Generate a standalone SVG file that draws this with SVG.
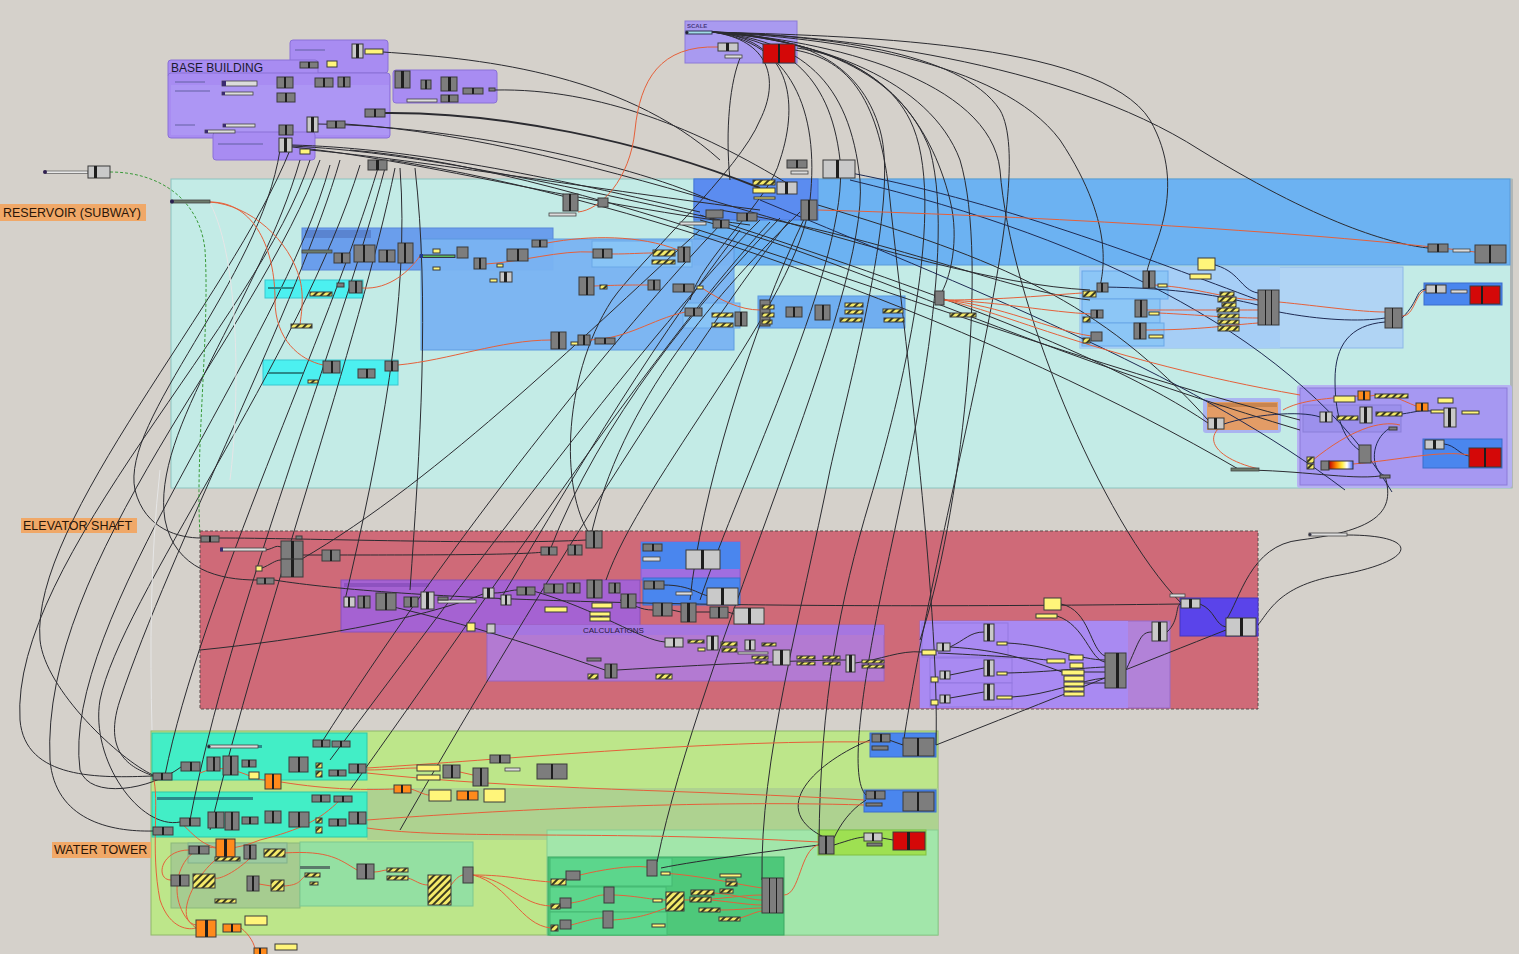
<svg xmlns="http://www.w3.org/2000/svg" width="1519" height="954" viewBox="0 0 1519 954">
<defs>
<pattern id="ht" width="5" height="5" patternUnits="userSpaceOnUse" patternTransform="rotate(45)"><rect width="5" height="5" fill="#f4ea6a"/><rect width="2" height="5" fill="#3a3a1e"/></pattern>
<linearGradient id="grad" x1="0" y1="0" x2="1" y2="0"><stop offset="0" stop-color="#c00000"/><stop offset="0.3" stop-color="#ff8800"/><stop offset="0.55" stop-color="#ffee44"/><stop offset="0.75" stop-color="#ffffff"/><stop offset="1" stop-color="#4466ff"/></linearGradient>
<style>
.g{fill:#7d7d7d;stroke:#3b3b3b;stroke-width:1}
.l{fill:#c9c9c9;stroke:#3b3b3b;stroke-width:1}
.k{fill:#1e1e1e}
.y{fill:#fff57a;stroke:#3b3b3b;stroke-width:1}
.h{fill:url(#ht);stroke:#3b3b3b;stroke-width:1}
.r{fill:#d40808;stroke:#3b3b3b;stroke-width:1}
.o{fill:#ff8a1c;stroke:#3b3b3b;stroke-width:1}
.s{fill:#dcdcdc;stroke:#444;stroke-width:0.8}
.sd{fill:#6b7b6b;stroke:#444;stroke-width:0.8}
.hd{fill:#5a5a9a;opacity:0.45}
.w{fill:none;stroke:#2b2b30;stroke-width:1}
.wn{fill:none;stroke:#1f2a52;stroke-width:1}
.wo{fill:none;stroke:#e5603a;stroke-width:1}
.wt{fill:none;stroke:#2b2b30;stroke-width:2}
.lbl{font-family:"Liberation Sans",Arial,sans-serif;font-size:12.5px;fill:#2a1608}
.pb{fill:#a88cf2;stroke:#8a70d6;stroke-width:1}
.pbi{fill:#ad96f4}
</style>
</defs>
<rect x="0" y="0" width="1519" height="954" fill="#d5d1cb"/>

<!-- group backgrounds -->
<g id="regions">
<!-- reservoir -->
<rect x="171" y="179" width="1341" height="309" fill="#c3ebe6" stroke="#8cc4c0"/>
<rect x="1510" y="179" width="3" height="309" fill="#b0b6b6"/>
<rect x="694" y="179" width="816" height="86" fill="#6cb2f2" stroke="#5a9ad8"/>
<rect x="694" y="179" width="124" height="41" fill="#5b8cf0" stroke="#4a78d8"/>
<rect x="302" y="228" width="251" height="42" fill="#6a9eec" stroke="#5a88d8"/>
<rect x="305" y="230" width="66" height="8" fill="#5a84d0"/>
<rect x="421" y="239" width="313" height="111" fill="#7ab4f3" stroke="#5a98e0" opacity="0.95"/>
<rect x="592" y="241" width="100" height="26" fill="#88c4f6" stroke="#6aa8e8"/>
<rect x="683" y="303" width="57" height="25" fill="#88c4f6" stroke="#6aa8e8"/>
<rect x="758" y="296" width="147" height="32" fill="#70aef0" stroke="#5a98e0"/>
<rect x="265" y="280" width="98" height="18" fill="#4cf0f0" stroke="#38c8d0"/>
<rect x="263" y="360" width="135" height="25" fill="#4cf0f0" stroke="#38c8d0"/>
<rect x="1080" y="267" width="323" height="81" fill="#b0d4f4" stroke="#8eb8e8"/>
<rect x="1080" y="267" width="200" height="81" fill="#a6cef6"/>
<rect x="1082" y="271" width="86" height="28" fill="#8cc6f6" stroke="#6aa8e8"/>
<rect x="1082" y="299" width="78" height="24" fill="#8cc6f6" stroke="#6aa8e8"/>
<rect x="1082" y="323" width="82" height="23" fill="#8cc6f6" stroke="#6aa8e8"/>
<rect x="1424" y="283" width="78" height="22" fill="#4a86ee" stroke="#3a6ccc"/>
<rect x="1203" y="398" width="78" height="35" rx="3" fill="#aab4f0"/>
<rect x="1207" y="402" width="71" height="28" fill="#e39c66"/>
<rect x="1208" y="403" width="69" height="4" fill="#c8844e"/>
<rect x="1297" y="385" width="215" height="103" rx="3" fill="#b6b2f2"/>
<rect x="1300" y="388" width="207" height="97" fill="#a698f2" stroke="#8c7ad8"/>
<rect x="1303" y="405" width="98" height="27" fill="#9c90ec" stroke="#8a7ed8"/>
<rect x="1423" y="439" width="79" height="29" fill="#4a86ee" stroke="#3a6ccc"/>
<!-- elevator -->
<rect x="200" y="531" width="1058" height="178" fill="#cf6a78" stroke="#5a4a4a" stroke-dasharray="3,2"/>
<rect x="341" y="580" width="299" height="52" fill="#a562d2" stroke="#8a50b8"/>
<rect x="344" y="583" width="85" height="4" fill="#8e52c0"/>
<rect x="487" y="625" width="397" height="56" fill="#b37ad2" stroke="#9a62c0"/>
<rect x="487" y="625" width="397" height="10" fill="#a676e0"/>
<rect x="641" y="542" width="99" height="38" fill="#a06ee0" stroke="#8a5ad0"/>
<rect x="641" y="542" width="99" height="27" fill="#4a86ee"/>
<rect x="643" y="578" width="97" height="27" fill="#4a86ee" stroke="#3a6ccc"/>
<rect x="920" y="621" width="250" height="87" fill="#b282d8" stroke="#9a6ac6"/>
<rect x="920" y="621" width="208" height="87" fill="#a98af2"/>
<rect x="922" y="623" width="86" height="34" fill="#a98af2" stroke="#9478e0"/>
<rect x="930" y="658" width="82" height="25" fill="#a98af2" stroke="#9478e0"/>
<rect x="930" y="683" width="82" height="24" fill="#a98af2" stroke="#9478e0"/>
<rect x="1180" y="598" width="78" height="38" fill="#5a44ea" stroke="#4434c0"/>
<!-- water tower -->
<rect x="151" y="731" width="787" height="204" fill="#bde68a" stroke="#90b86a"/>
<rect x="367" y="788" width="571" height="52" fill="#aed290"/>
<rect x="152" y="733" width="215" height="47" fill="#42eec6" stroke="#2ec8a8"/>
<rect x="152" y="792" width="215" height="45" fill="#42eec6" stroke="#2ec8a8"/>
<rect x="210" y="745" width="52" height="3" fill="#2a8a8a"/>
<rect x="157" y="797" width="96" height="3" fill="#2a8a8a"/>
<rect x="171" y="843" width="129" height="65" fill="#a6cc90" stroke="#8cb87a"/>
<rect x="188" y="843" width="99" height="20" fill="#9ccaa0" stroke="#80b08a"/>
<rect x="300" y="842" width="173" height="64" fill="#94e0a2" stroke="#7cc890"/>
<rect x="300" y="866" width="30" height="3" fill="#5a7a6a"/>
<rect x="547" y="830" width="391" height="105" fill="#a2e6aa" stroke="#88cc90"/>
<rect x="548" y="857" width="236" height="78" fill="#4ec87a" stroke="#3aa862"/>
<rect x="550" y="858" width="122" height="28" fill="#5cd68c" stroke="#44b872"/>
<rect x="550" y="887" width="116" height="25" fill="#5cd68c" stroke="#44b872"/>
<rect x="550" y="912" width="117" height="23" fill="#5cd68c" stroke="#44b872"/>
<rect x="818" y="830" width="108" height="25" fill="#9ee052" stroke="#80c040"/>
<rect x="870" y="733" width="66" height="24" fill="#4a86ee" stroke="#3a6ccc"/>
<rect x="864" y="790" width="72" height="22" fill="#4a86ee" stroke="#3a6ccc"/>
<!-- base building -->
<rect x="290" y="40" width="98" height="33" rx="3" class="pb"/>
<rect x="168" y="60" width="150" height="18" rx="3" class="pb"/>
<rect x="168" y="73" width="222" height="65" rx="3" class="pb"/>
<rect x="171" y="85" width="218" height="50" class="pbi"/>
<rect x="213" y="132" width="102" height="28" rx="3" class="pb"/>
<rect x="393" y="70" width="104" height="33" rx="3" class="pb"/>
<rect x="295" y="49" width="30" height="2" class="hd"/>
<rect x="175" y="81" width="30" height="2" class="hd"/>
<rect x="175" y="90" width="35" height="2" class="hd"/>
<rect x="175" y="124" width="20" height="2" class="hd"/>
<rect x="218" y="143" width="45" height="2" class="hd"/>
<!-- scale -->
<rect x="685" y="21" width="112" height="42" fill="#a99af0" stroke="#8c7ad8"/>
</g>

<!-- labels -->
<g id="labels">
<text x="171" y="72" class="lbl" style="font-size:12px;fill:#1a1a2e">BASE BUILDING</text>
<text x="687" y="28" style="font-family:'Liberation Sans',Arial,sans-serif;font-size:6px;fill:#4a3a80;font-weight:bold">SCALE</text>
<rect x="0" y="204" width="146" height="17" fill="#f0a868"/>
<text x="3" y="217" class="lbl">RESERVOIR (SUBWAY)</text>
<rect x="21" y="518" width="116" height="15" fill="#f0a868"/>
<text x="23" y="530" class="lbl">ELEVATOR SHAFT</text>
<rect x="52" y="842" width="99" height="16" fill="#f0a868"/>
<text x="54" y="854" class="lbl">WATER TOWER</text>
<text x="583" y="633" style="font-family:'Liberation Sans',Arial,sans-serif;font-size:8px;fill:#2a1a40">CALCULATIONS</text>
</g>

<!-- connectors -->
<g id="connectors">
<path class="w" d="M712,32 C800,36 860,60 880,130 C900,200 850,380 830,470 C800,620 760,760 762,880"/>
<path class="w" d="M712,32 C810,38 900,70 930,150 C960,260 900,500 880,600 C860,700 850,780 866,795"/>
<path class="w" d="M712,32 C820,40 930,80 960,160 C990,260 960,520 920,640"/>
<path class="w" d="M712,32 C830,40 990,80 1000,170 C1010,300 1100,520 1181,603"/>
<path class="w" d="M712,32 C780,40 830,70 840,160 C850,260 740,480 700,600"/>
<path class="w" d="M712,32 C790,42 820,110 810,200 C800,300 640,480 606,580"/>
<path class="w" d="M712,32 C800,40 850,80 860,180 C870,300 700,650 657,862"/>
<path class="w" d="M712,32 C800,40 880,60 910,120 C950,200 900,400 870,500 C840,600 820,700 819,845"/>
<path class="w" d="M712,32 C830,35 1060,60 1200,150 C1330,230 1400,245 1428,248"/>
<path class="w" d="M712,32 C830,38 1000,60 1060,140 C1120,230 1100,280 1100,288"/>
<path class="w" d="M712,32 C820,36 960,50 1000,110 C1040,180 940,500 903,745"/>
<path class="w" d="M795,50 C850,60 880,100 890,200 C900,300 940,600 936,745"/>
<path class="w" d="M797,48 C880,60 930,120 950,200 C960,240 950,280 940,295"/>
<path class="w" d="M712,32 C790,38 800,100 780,160 C770,200 700,260 690,300"/>
<path class="w" d="M712,32 C770,40 780,80 760,120 C740,170 640,260 612,300 C560,380 560,500 594,540"/>
<path class="w" d="M741,56 C730,80 725,130 730,180"/>
<path class="w" d="M712,32 C840,36 1100,40 1150,120 C1190,190 1150,250 1147,272"/>
<path class="wt" d="M385,113 C500,112 640,140 760,188"/>
<path class="w" d="M318,124 C450,126 620,160 710,200"/>
<path class="w" d="M495,90 C600,88 700,130 790,185"/>
<path class="w" d="M383,52 C470,58 620,70 720,160"/>
<path class="w" d="M292,145 C400,148 520,170 700,212"/>
<path class="w" d="M292,146 C410,152 540,180 720,220"/>
<path class="w" d="M292,147 C420,160 560,200 750,225"/>
<path class="w" d="M310,150 C420,160 600,190 760,210"/>
<path class="w" d="M345,124 C600,140 900,280 1090,290"/>
<path class="w" d="M350,150 C600,170 950,330 1300,420"/>
<path class="w" d="M390,160 C650,200 1000,330 1240,470"/>
<path class="w" d="M280,150 C260,280 120,420 135,490 C145,530 180,538 201,538"/>
<path class="w" d="M300,160 C260,300 150,430 165,520 C175,570 220,580 257,580"/>
<path class="w" d="M310,160 C260,320 10,560 20,720 C25,780 100,778 153,776"/>
<path class="w" d="M320,160 C260,330 40,560 50,760 C55,820 110,832 153,831"/>
<path class="w" d="M330,165 C280,350 60,620 80,770 C90,800 150,790 181,767"/>
<path class="w" d="M378,168 C330,330 200,600 165,775"/>
<path class="w" d="M385,168 C340,340 230,610 190,820"/>
<path class="w" d="M395,168 C360,340 260,620 210,830"/>
<path class="w" d="M340,160 C300,300 170,550 120,700 C100,760 140,770 153,776"/>
<path class="w" d="M400,168 C410,300 380,450 345,600"/>
<path class="w" d="M415,168 C430,300 420,450 410,590"/>
<path class="w" d="M360,165 C300,360 120,600 100,700 C90,760 140,830 180,822"/>
<path class="w" d="M290,150 C230,300 30,520 40,640 C45,690 120,760 153,775"/>
<path class="w" d="M760,220 C650,330 480,560 330,760"/>
<path class="w" d="M770,222 C660,340 500,580 350,790"/>
<path class="w" d="M720,225 C620,330 450,540 320,745"/>
<path class="w" d="M780,218 C700,300 600,420 550,550"/>
<path class="w" d="M700,230 C600,320 440,480 300,560"/>
<path class="w" d="M740,230 C640,360 560,500 500,600"/>
<path class="w" d="M806,215 C750,330 700,500 690,600"/>
<path class="w" d="M800,212 C720,290 620,400 590,540"/>
<path class="w" d="M790,220 C700,330 520,620 400,830"/>
<path class="w" d="M720,210 C900,240 1000,290 1090,300"/>
<path class="w" d="M700,220 C850,260 1000,340 1300,430"/>
<path class="wn" d="M760,200 C1000,300 1200,380 1345,490"/>
<path class="wn" d="M850,180 C1100,240 1300,340 1392,492"/>
<path class="w" d="M818,205 C1000,260 1100,300 1208,420"/>
<path class="w" d="M700,215 C900,280 1100,350 1208,423"/>
<path class="wn" d="M835,170 C1000,200 1150,260 1258,300"/>
<path class="wn" d="M1102,287 C1180,288 1220,296 1258,305"/>
<path class="wn" d="M1279,312 C1320,320 1360,322 1385,318"/>
<path class="wn" d="M1402,318 C1420,300 1415,290 1426,289"/>
<path class="wn" d="M1211,264 C1240,270 1240,290 1258,293"/>
<path class="wn" d="M1385,322 C1350,325 1335,345 1335,380 C1335,420 1345,440 1359,450"/>
<path class="w" d="M1385,476 C1395,510 1380,530 1300,540 C1250,545 1240,600 1226,620"/>
<path class="w" d="M1347,535 C1420,535 1420,560 1340,575 C1280,585 1270,610 1258,625"/>
<path class="w" d="M1240,470 C1300,470 1350,480 1380,476"/>
<path class="wn" d="M1224,424 C1250,415 1300,410 1320,417"/>
<path class="wn" d="M1390,428 C1370,440 1370,470 1385,476"/>
<path class="wn" d="M1444,444 C1455,445 1460,455 1469,456"/>
<path class="wn" d="M1402,414 C1415,412 1420,410 1431,411"/>
<path class="w" d="M1126,670 C1140,640 1140,632 1152,632"/>
<path class="w" d="M1167,632 C1180,620 1175,604 1181,604"/>
<path class="w" d="M1200,604 C1215,610 1215,625 1226,627"/>
<path class="w" d="M936,745 C1050,700 1150,660 1226,630"/>
<path class="w" d="M219,538 C300,538 500,545 586,540"/>
<path class="w" d="M266,550 C275,548 275,545 281,547"/>
<path class="w" d="M262,568 C270,565 275,560 281,560"/>
<path class="w" d="M303,555 L322,555"/>
<path class="w" d="M340,555 C420,555 520,555 544,552"/>
<path class="w" d="M274,580 C400,600 700,610 1181,604"/>
<path class="w" d="M494,593 C505,593 510,590 517,590"/>
<path class="w" d="M664,585 C690,585 700,595 709,596"/>
<path class="w" d="M620,600 C635,605 640,610 653,610"/>
<path class="w" d="M672,610 L681,612"/>
<path class="w" d="M696,612 L710,612"/>
<path class="w" d="M728,612 L734,614"/>
<path class="w" d="M617,670 C700,665 800,660 846,660"/>
<path class="w" d="M855,663 C880,660 900,650 922,652"/>
<path class="w" d="M950,647 C965,640 970,632 984,632"/>
<path class="w" d="M950,675 L984,668"/>
<path class="w" d="M950,698 L984,692"/>
<path class="w" d="M1007,643 C1050,645 1080,660 1105,660"/>
<path class="w" d="M1007,673 C1050,672 1080,668 1105,667"/>
<path class="w" d="M1012,697 C1050,695 1080,680 1105,678"/>
<path class="w" d="M1061,604 C1090,610 1090,650 1105,656"/>
<path class="w" d="M1057,616 C1085,625 1090,660 1105,662"/>
<path class="w" d="M1084,672 L1105,672"/>
<path class="w" d="M1084,683 L1105,683"/>
<path class="w" d="M938,653 C980,655 1030,658 1047,660"/>
<path class="w" d="M950,647 C1000,650 1030,660 1062,672"/>
<path class="w" d="M200,650 C300,640 420,620 483,594"/>
<path class="w" d="M385,605 C450,620 520,640 605,670"/>
<path class="w" d="M530,590 C600,610 640,640 665,642"/>
<path class="w" d="M889,740 L903,745"/>
<path class="w" d="M819,845 C780,850 700,860 661,868"/>
<path class="w" d="M834,845 C850,840 855,838 864,837"/>
<path class="w" d="M882,838 L893,840"/>
<path class="w" d="M866,800 C850,810 840,825 834,838"/>
<path class="w" d="M870,740 C820,760 760,810 830,840"/>
<path class="wo" d="M367,768 C500,760 700,740 870,742"/>
<path class="wo" d="M367,773 C520,790 700,790 864,800"/>
<path class="wo" d="M367,820 C500,810 700,800 864,805"/>
<path class="wo" d="M367,828 C450,840 600,830 819,842"/>
<path class="wo" d="M473,875 C510,875 520,880 551,882"/>
<path class="wo" d="M473,875 C510,880 520,905 551,906"/>
<path class="wo" d="M473,875 C510,885 520,925 551,928"/>
<path class="wo" d="M580,875 C600,870 630,865 647,867"/>
<path class="wo" d="M571,903 C590,900 595,895 604,895"/>
<path class="wo" d="M571,925 C590,920 595,918 603,918"/>
<path class="wo" d="M661,873 C700,875 740,885 762,888"/>
<path class="wo" d="M614,895 C640,896 650,900 666,900"/>
<path class="wo" d="M613,920 C640,918 650,914 666,908"/>
<path class="wo" d="M684,900 C720,900 740,895 762,895"/>
<path class="wo" d="M714,893 C740,895 750,900 762,900"/>
<path class="wo" d="M711,900 C740,903 750,905 762,905"/>
<path class="wo" d="M720,910 C740,910 750,908 762,908"/>
<path class="wo" d="M740,918 C750,915 755,912 762,911"/>
<path class="wo" d="M784,895 C800,895 800,850 818,845"/>
<path class="wo" d="M189,850 C160,850 155,880 171,880"/>
<path class="wo" d="M216,848 C180,840 160,900 196,928"/>
<path class="wo" d="M235,848 C200,860 170,920 196,925"/>
<path class="wo" d="M256,852 C240,870 220,880 215,878"/>
<path class="wo" d="M284,853 C330,850 340,860 357,870"/>
<path class="wo" d="M259,884 L271,886"/>
<path class="wo" d="M284,886 C300,885 300,880 305,876"/>
<path class="wo" d="M241,928 C250,935 255,945 255,950"/>
<path class="wo" d="M200,773 C230,760 250,780 265,780"/>
<path class="wo" d="M281,782 C330,790 370,790 394,789"/>
<path class="wo" d="M411,789 C420,792 425,795 429,795"/>
<path class="wo" d="M366,770 C390,770 400,768 417,768"/>
<path class="wo" d="M460,772 L473,775"/>
<path class="wo" d="M153,776 C160,800 150,850 160,900 C170,930 190,930 196,928"/>
<path class="wo" d="M180,822 C200,840 210,860 260,840 C300,830 320,820 340,800"/>
<path class="wo" d="M374,872 C380,872 383,870 387,870"/>
<path class="wo" d="M408,878 C415,880 420,885 428,885"/>
<path class="wo" d="M451,885 C455,880 458,876 463,875"/>
<path class="wo" d="M210,202 C255,202 275,250 275,300 C275,340 300,360 323,365"/>
<path class="wo" d="M210,202 C250,205 290,240 300,280 C305,300 300,320 300,326"/>
<path class="wo" d="M362,288 C390,290 410,270 420,256"/>
<path class="wo" d="M398,365 C450,360 500,340 551,340"/>
<path class="wo" d="M590,340 C630,338 650,320 685,312"/>
<path class="wo" d="M818,210 C1000,215 1300,230 1475,252"/>
<path class="wo" d="M944,300 C1000,300 1050,295 1082,293"/>
<path class="wo" d="M944,300 C1000,302 1050,312 1091,314"/>
<path class="wo" d="M944,300 C1000,305 1050,330 1091,336"/>
<path class="wo" d="M944,300 C1000,310 1100,360 1300,395"/>
<path class="wo" d="M1155,285 C1200,288 1230,300 1258,300"/>
<path class="wo" d="M1147,310 C1200,310 1230,310 1258,310"/>
<path class="wo" d="M1159,313 C1200,315 1230,318 1258,318"/>
<path class="wo" d="M1146,330 C1200,330 1230,325 1258,323"/>
<path class="wo" d="M1279,302 C1320,306 1360,312 1385,312"/>
<path class="wo" d="M1402,316 C1415,316 1415,292 1426,290"/>
<path class="wo" d="M718,47 C660,45 640,80 635,130 C630,180 600,210 578,212"/>
<path class="wo" d="M486,264 C520,262 560,250 593,252"/>
<path class="wo" d="M612,254 C630,254 640,253 653,253"/>
<path class="wo" d="M594,286 C620,285 630,285 648,285"/>
<path class="wo" d="M547,243 C590,235 640,235 678,250"/>
<path class="wo" d="M702,288 C720,300 740,310 760,310"/>
<path class="wo" d="M1283,410 C1300,400 1330,398 1358,396"/>
<path class="wo" d="M1370,396 C1390,392 1400,400 1416,406"/>
<path class="wo" d="M1313,460 C1350,430 1380,420 1400,425"/>
<path class="wo" d="M1353,464 C1400,460 1440,450 1469,455"/>
<path class="wo" d="M1224,424 C1200,440 1220,460 1259,469"/>
<path fill="none" stroke="#3a9a3a" stroke-width="1" stroke-dasharray="3,2" d="M110,172 C160,172 200,200 205,250 C210,330 195,450 200,535"/>
<path fill="none" stroke="#e6e6e6" stroke-width="1" d="M210,203 C240,260 240,400 230,480"/>
<path fill="none" stroke="#e6e6e6" stroke-width="1" d="M160,470 C150,560 150,650 152,730"/>
</g>

<!-- nodes -->
<g id="node-base-building">
<rect class="g" x="277" y="77" width="16" height="11"/><rect class="k" x="284" y="77" width="2" height="11"/>
<rect class="g" x="315" y="78" width="18" height="9"/><rect class="k" x="323" y="78" width="2" height="9"/>
<rect class="g" x="338" y="77" width="12" height="10"/><rect class="k" x="343" y="77" width="2" height="10"/>
<rect class="g" x="277" y="93" width="18" height="9"/><rect class="k" x="285" y="93" width="2" height="9"/>
<rect class="l" x="307" y="117" width="11" height="15"/><rect class="k" x="311" y="117" width="3" height="15"/>
<rect class="g" x="327" y="121" width="18" height="7"/><rect class="k" x="335" y="121" width="2" height="7"/>
<rect class="g" x="365" y="109" width="20" height="8"/><rect class="k" x="374" y="109" width="2" height="8"/>
<rect class="g" x="279" y="125" width="14" height="10"/><rect class="k" x="285" y="125" width="2" height="10"/>
<rect class="l" x="279" y="138" width="13" height="14"/><rect class="k" x="284" y="138" width="3" height="14"/>
<rect class="y" x="300" y="149" width="10" height="5"/>
<rect class="g" x="300" y="62" width="18" height="6"/><rect class="k" x="308" y="62" width="2" height="6"/>
<rect class="y" x="327" y="61" width="10" height="6"/>
<rect class="l" x="352" y="44" width="11" height="14"/><rect class="k" x="356" y="44" width="3" height="14"/>
<rect class="y" x="365" y="49" width="18" height="5"/>
<rect class="s" x="222" y="81" width="35" height="5"/><rect x="222" y="81" width="4" height="5" fill="#3a2a70"/>
<rect class="s" x="222" y="92" width="31" height="3"/><rect x="222" y="92" width="3" height="3" fill="#3a2a70"/>
<rect class="s" x="223" y="124" width="32" height="3"/><rect x="223" y="124" width="3" height="3" fill="#3a2a70"/>
<rect class="s" x="205" y="130" width="30" height="3"/><rect x="205" y="130" width="3" height="3" fill="#3a2a70"/>
<rect class="g" x="395" y="71" width="15" height="17"/><rect class="k" x="401" y="71" width="3" height="17"/>
<rect class="g" x="421" y="80" width="10" height="9"/><rect class="k" x="425" y="80" width="2" height="9"/>
<rect class="g" x="441" y="77" width="16" height="14"/><rect class="k" x="448" y="77" width="3" height="14"/>
<rect class="g" x="441" y="95" width="17" height="7"/><rect class="k" x="448" y="95" width="2" height="7"/>
<rect class="g" x="463" y="88" width="20" height="6"/><rect class="k" x="472" y="88" width="2" height="6"/>
<rect class="g" x="489" y="88" width="6" height="3"/>
<rect class="s" x="407" y="99" width="30" height="3"/>
<rect class="g" x="368" y="160" width="19" height="10"/><rect class="k" x="376" y="160" width="3" height="10"/>
</g>

<g id="node-scale">
<rect x="686" y="31" width="26" height="3" fill="#a0dce6" stroke="#335"/><circle cx="687" cy="32.5" r="1.5" fill="#223"/>
<rect class="l" x="718" y="43" width="20" height="8"/><rect class="k" x="726" y="43" width="3" height="8"/>
<rect class="s" x="725" y="55" width="17" height="3" fill="#b8a8d8"/>
<rect class="r" x="763" y="44" width="32" height="19"/><rect class="k" x="778" y="44" width="2" height="19"/>
</g>

<g id="node-reservoir">
<rect x="45" y="171" width="43" height="2.5" fill="#e8e8e8" stroke="#444" stroke-width="0.6"/><circle cx="45" cy="172" r="2" fill="#302050"/>
<rect class="l" x="88" y="166" width="22" height="12"/><rect class="k" x="94" y="166" width="3" height="12"/>
<rect class="sd" x="171" y="200" width="39" height="3"/><circle cx="172" cy="201.5" r="2" fill="#2a2050"/>
<rect class="g" x="563" y="194" width="15" height="17"/><rect class="k" x="569" y="194" width="2" height="17"/>
<rect class="g" x="598" y="198" width="10" height="9"/>
<rect class="s" x="549" y="213" width="27" height="3"/>
<rect class="g" x="787" y="160" width="20" height="8"/><rect class="k" x="796" y="160" width="2" height="8"/>
<rect class="l" x="823" y="160" width="32" height="18"/><rect class="k" x="836" y="160" width="3" height="18"/>
<rect class="s" x="791" y="171" width="17" height="3"/>
<rect class="h" x="753" y="180" width="22" height="5"/>
<rect class="y" x="753" y="188" width="22" height="5"/>
<rect class="y" x="754" y="197" width="21" height="2"/>
<rect class="l" x="777" y="182" width="20" height="12"/><rect class="k" x="785" y="182" width="3" height="12"/>
<rect class="g" x="801" y="200" width="16" height="20"/><rect class="k" x="808" y="200" width="2" height="20"/>
<rect class="g" x="706" y="210" width="17" height="8"/>
<rect class="g" x="737" y="213" width="20" height="8"/><rect class="k" x="746" y="213" width="2" height="8"/>
<rect class="g" x="713" y="220" width="16" height="8"/><rect class="k" x="720" y="220" width="2" height="8"/>
<rect class="s" x="680" y="222" width="26" height="3"/>
<rect class="g" x="1428" y="244" width="20" height="8"/><rect class="k" x="1437" y="244" width="2" height="8"/>
<rect class="s" x="1453" y="249" width="17" height="3"/>
<rect class="g" x="1475" y="245" width="31" height="18"/><rect class="k" x="1489" y="245" width="2" height="18"/>
<rect class="sd" x="302" y="250" width="30" height="3"/>
<rect class="g" x="334" y="253" width="16" height="10"/><rect class="k" x="341" y="253" width="2" height="10"/>
<rect class="g" x="354" y="245" width="21" height="17"/><rect class="k" x="363" y="245" width="2" height="17"/>
<rect class="g" x="379" y="250" width="16" height="12"/><rect class="k" x="386" y="250" width="2" height="12"/>
<rect class="g" x="398" y="243" width="15" height="20"/><rect class="k" x="404" y="243" width="2" height="20"/>
<rect x="420" y="255" width="35" height="2.5" fill="#5cb85c" stroke="#334"/><rect x="420" y="254" width="3" height="4" fill="#223a8a"/>
<rect class="y" x="433" y="249" width="7" height="4"/>
<rect class="y" x="433" y="267" width="7" height="3"/>
<rect class="g" x="457" y="247" width="11" height="11"/>
<rect class="g" x="474" y="258" width="12" height="11"/><rect class="k" x="479" y="258" width="2" height="11"/>
<rect class="g" x="507" y="249" width="21" height="12"/><rect class="k" x="517" y="249" width="2" height="12"/>
<rect class="g" x="532" y="240" width="15" height="7"/><rect class="k" x="539" y="240" width="2" height="7"/>
<rect class="y" x="490" y="279" width="7" height="3"/>
<rect class="l" x="500" y="272" width="12" height="10"/><rect class="k" x="504" y="272" width="3" height="10"/>
<rect class="y" x="497" y="264" width="6" height="3"/>
<rect class="g" x="593" y="249" width="19" height="9"/><rect class="k" x="602" y="249" width="2" height="9"/>
<rect class="h" x="653" y="250" width="22" height="6"/>
<rect class="h" x="652" y="260" width="23" height="4"/>
<rect class="g" x="678" y="247" width="12" height="15"/><rect class="k" x="683" y="247" width="2" height="15"/>
<rect class="g" x="579" y="277" width="15" height="18"/><rect class="k" x="586" y="277" width="2" height="18"/>
<rect class="h" x="600" y="285" width="7" height="4"/>
<rect class="g" x="648" y="280" width="12" height="10"/><rect class="k" x="653" y="280" width="2" height="10"/>
<rect class="g" x="673" y="284" width="21" height="8"/><rect class="k" x="683" y="284" width="2" height="8"/>
<rect class="y" x="697" y="286" width="6" height="3"/>
<rect class="g" x="337" y="283" width="7" height="4"/>
<rect class="g" x="349" y="281" width="13" height="12"/><rect class="k" x="355" y="281" width="2" height="12"/>
<rect class="h" x="310" y="292" width="22" height="4"/>
<rect class="h" x="291" y="324" width="21" height="4"/>
<rect class="g" x="551" y="332" width="15" height="17"/><rect class="k" x="558" y="332" width="2" height="17"/>
<rect class="y" x="571" y="342" width="7" height="3"/>
<rect class="g" x="578" y="335" width="12" height="10"/><rect class="k" x="583" y="335" width="2" height="10"/>
<rect class="g" x="595" y="338" width="20" height="6"/><rect class="k" x="604" y="338" width="2" height="6"/>
<rect class="g" x="685" y="308" width="17" height="8"/><rect class="k" x="693" y="308" width="2" height="8"/>
<rect class="h" x="712" y="313" width="21" height="4"/>
<rect class="h" x="712" y="323" width="21" height="4"/>
<rect class="g" x="735" y="312" width="12" height="14"/><rect class="k" x="740" y="312" width="2" height="14"/>
<rect class="g" x="760" y="300" width="10" height="26"/>
<rect class="h" x="762" y="305" width="12" height="4"/>
<rect class="h" x="762" y="313" width="12" height="4"/>
<rect class="h" x="762" y="320" width="10" height="4"/>
<rect class="g" x="786" y="307" width="16" height="10"/><rect class="k" x="793" y="307" width="2" height="10"/>
<rect class="g" x="815" y="305" width="15" height="15"/><rect class="k" x="822" y="305" width="2" height="15"/>
<rect class="h" x="845" y="303" width="18" height="4"/>
<rect class="h" x="845" y="310" width="18" height="4"/>
<rect class="h" x="840" y="318" width="22" height="4"/>
<rect class="h" x="883" y="309" width="20" height="4"/>
<rect class="h" x="884" y="318" width="20" height="4"/>
<rect class="g" x="935" y="291" width="9" height="14"/>
<rect class="h" x="950" y="313" width="26" height="4"/>
<rect class="g" x="323" y="361" width="17" height="12"/><rect class="k" x="331" y="361" width="2" height="12"/>
<rect class="g" x="358" y="369" width="17" height="9"/><rect class="k" x="366" y="369" width="2" height="9"/>
<rect class="g" x="385" y="361" width="13" height="10"/><rect class="k" x="391" y="361" width="2" height="10"/>
<rect x="268" y="372" width="35" height="2" fill="#2a8a8a"/>
<rect class="h" x="308" y="380" width="10" height="3"/>
<rect x="268" y="287" width="25" height="2" fill="#2a8a8a"/>
</g>

<g id="node-reservoir-right">
<rect class="g" x="1143" y="271" width="12" height="17"/><rect class="k" x="1148" y="271" width="2" height="17"/>
<rect class="g" x="1097" y="283" width="11" height="9"/><rect class="k" x="1101" y="283" width="2" height="9"/>
<rect class="h" x="1083" y="291" width="13" height="6"/>
<rect class="y" x="1158" y="284" width="9" height="3"/>
<rect class="g" x="1135" y="300" width="12" height="17"/><rect class="k" x="1140" y="300" width="2" height="17"/>
<rect class="g" x="1091" y="310" width="12" height="8"/><rect class="k" x="1096" y="310" width="2" height="8"/>
<rect class="h" x="1083" y="317" width="7" height="5"/>
<rect class="y" x="1149" y="312" width="10" height="3"/>
<rect class="g" x="1134" y="323" width="12" height="16"/><rect class="k" x="1139" y="323" width="2" height="16"/>
<rect class="g" x="1091" y="332" width="11" height="9"/>
<rect class="h" x="1083" y="338" width="7" height="5"/>
<rect class="y" x="1149" y="335" width="14" height="3"/>
<rect class="y" x="1198" y="258" width="17" height="12"/>
<rect class="y" x="1190" y="274" width="21" height="5"/>
<rect class="h" x="1220" y="292" width="14" height="4"/>
<rect class="h" x="1218" y="297" width="18" height="5"/>
<rect class="h" x="1222" y="303" width="14" height="4"/>
<rect class="h" x="1217" y="308" width="22" height="4"/>
<rect class="h" x="1218" y="314" width="21" height="4"/>
<rect class="h" x="1218" y="320" width="21" height="4"/>
<rect class="h" x="1218" y="326" width="21" height="5"/>
<rect class="g" x="1258" y="290" width="21" height="35"/><rect class="k" x="1265" y="290" width="1" height="35"/><rect class="k" x="1271" y="290" width="1" height="35"/>
<rect class="g" x="1385" y="308" width="17" height="20"/><rect class="k" x="1392" y="308" width="1" height="20"/>
<rect class="l" x="1426" y="285" width="20" height="8"/><rect class="k" x="1435" y="285" width="2" height="8"/>
<rect class="s" x="1451" y="290" width="16" height="3"/>
<rect class="r" x="1470" y="286" width="30" height="18"/><rect class="k" x="1481" y="286" width="2" height="18"/>
<rect class="l" x="1208" y="418" width="16" height="11"/><rect class="k" x="1214" y="418" width="3" height="11"/>
<rect class="y" x="1334" y="396" width="21" height="6"/>
<rect class="o" x="1358" y="391" width="12" height="9"/><rect class="k" x="1363" y="391" width="2" height="9"/>
<rect class="h" x="1375" y="394" width="33" height="4"/>
<rect class="o" x="1416" y="403" width="12" height="8"/><rect class="k" x="1421" y="403" width="2" height="8"/>
<rect class="y" x="1438" y="398" width="15" height="5"/>
<rect class="l" x="1320" y="412" width="12" height="10"/><rect class="k" x="1325" y="412" width="2" height="10"/>
<rect class="h" x="1337" y="416" width="21" height="4"/>
<rect class="l" x="1360" y="407" width="12" height="16"/><rect class="k" x="1364" y="407" width="3" height="16"/>
<rect class="h" x="1376" y="412" width="26" height="4"/>
<rect class="y" x="1431" y="410" width="14" height="3"/>
<rect class="l" x="1444" y="408" width="12" height="19"/><rect class="k" x="1448" y="408" width="3" height="19"/>
<rect class="y" x="1462" y="411" width="17" height="3"/>
<rect class="g" x="1389" y="427" width="8" height="3"/>
<rect class="g" x="1359" y="445" width="12" height="18"/>
<rect class="h" x="1307" y="457" width="7" height="6"/>
<rect class="h" x="1307" y="464" width="7" height="5"/>
<rect class="g" x="1321" y="461" width="8" height="9"/>
<rect x="1329" y="461" width="24" height="8" fill="url(#grad)" stroke="#333"/>
<rect class="l" x="1425" y="440" width="19" height="9"/><rect class="k" x="1433" y="440" width="3" height="9"/>
<rect class="r" x="1469" y="448" width="32" height="19"/><rect class="k" x="1484" y="448" width="2" height="19"/>
<rect class="sd" x="1231" y="468" width="28" height="3"/>
<rect class="g" x="1380" y="475" width="10" height="3"/>
<rect class="s" x="1309" y="533" width="38" height="3"/><circle cx="1310" cy="534.5" r="1.5" fill="#334"/>
</g>

<g id="node-elevator">
<rect class="g" x="201" y="536" width="18" height="6"/><rect class="k" x="209" y="536" width="2" height="6"/>
<rect class="s" x="221" y="548" width="45" height="3"/><rect x="220" y="547.5" width="3" height="4" fill="#3a2a70"/>
<rect class="y" x="256" y="566" width="6" height="5"/>
<rect class="g" x="281" y="541" width="22" height="36"/><rect class="k" x="291" y="541" width="3" height="36"/><line x1="281" y1="559" x2="303" y2="559" stroke="#333"/>
<rect class="g" x="322" y="550" width="18" height="11"/><rect class="k" x="330" y="550" width="2" height="11"/>
<rect class="g" x="257" y="578" width="17" height="6"/><rect class="k" x="264" y="578" width="2" height="6"/>
<rect class="g" x="296" y="536" width="6" height="3"/>
<rect class="l" x="344" y="597" width="11" height="10"/><rect class="k" x="348" y="597" width="2" height="10"/>
<rect class="g" x="358" y="596" width="12" height="12"/><rect class="k" x="363" y="596" width="2" height="12"/>
<rect class="g" x="376" y="593" width="20" height="17"/><rect class="k" x="385" y="593" width="2" height="17"/>
<rect class="g" x="404" y="597" width="14" height="10"/><rect class="k" x="410" y="597" width="2" height="10"/>
<rect class="l" x="421" y="592" width="13" height="17"/><rect class="k" x="426" y="592" width="3" height="17"/>
<rect class="s" x="438" y="600" width="38" height="3"/>
<rect class="g" x="438" y="597" width="10" height="3"/>
<rect class="l" x="483" y="588" width="11" height="10"/><rect class="k" x="487" y="588" width="3" height="10"/>
<rect class="l" x="501" y="595" width="10" height="10"/><rect class="k" x="505" y="595" width="2" height="10"/>
<rect class="g" x="517" y="587" width="18" height="8"/><rect class="k" x="525" y="587" width="2" height="8"/>
<rect class="g" x="544" y="584" width="19" height="9"/><rect class="k" x="553" y="584" width="2" height="9"/>
<rect class="g" x="567" y="583" width="13" height="10"/><rect class="k" x="573" y="583" width="2" height="10"/>
<rect class="g" x="587" y="580" width="15" height="18"/><rect class="k" x="593" y="580" width="2" height="18"/>
<rect class="g" x="609" y="583" width="11" height="10"/><rect class="k" x="614" y="583" width="2" height="10"/>
<rect class="g" x="621" y="594" width="15" height="14"/><rect class="k" x="627" y="594" width="2" height="14"/>
<rect class="y" x="592" y="603" width="20" height="5"/>
<rect class="y" x="590" y="612" width="20" height="4"/>
<rect class="y" x="590" y="617" width="20" height="4"/>
<rect class="y" x="545" y="607" width="22" height="5"/>
<rect class="y" x="467" y="623" width="8" height="8"/>
<rect class="l" x="487" y="624" width="8" height="9"/>
<rect class="g" x="541" y="547" width="16" height="8"/><rect class="k" x="548" y="547" width="2" height="8"/>
<rect class="g" x="568" y="545" width="14" height="10"/><rect class="k" x="574" y="545" width="2" height="10"/>
<rect class="g" x="586" y="531" width="16" height="17"/><rect class="k" x="593" y="531" width="2" height="17"/>
<rect class="g" x="643" y="544" width="19" height="7"/><rect class="k" x="652" y="544" width="2" height="7"/>
<rect class="s" x="643" y="557" width="17" height="4" fill="#9ac8e8"/>
<rect class="l" x="686" y="550" width="34" height="19"/><rect class="k" x="701" y="550" width="3" height="19"/>
<rect class="g" x="644" y="581" width="20" height="8"/><rect class="k" x="653" y="581" width="2" height="8"/>
<rect class="s" x="676" y="592" width="16" height="3" fill="#9ac8e8"/>
<rect class="l" x="707" y="588" width="31" height="17"/><rect class="k" x="721" y="588" width="3" height="17"/>
<rect class="g" x="653" y="603" width="19" height="13"/><rect class="k" x="661" y="603" width="2" height="13"/>
<rect class="g" x="681" y="603" width="15" height="19"/><rect class="k" x="687" y="603" width="3" height="19"/>
<rect class="g" x="710" y="607" width="18" height="11"/><rect class="k" x="718" y="607" width="2" height="11"/>
<rect class="l" x="734" y="608" width="30" height="16"/><rect class="k" x="748" y="608" width="3" height="16"/>
<rect class="l" x="665" y="638" width="18" height="9"/><rect class="k" x="673" y="638" width="2" height="9"/>
<rect class="h" x="688" y="640" width="16" height="3"/>
<rect class="y" x="698" y="648" width="7" height="3"/>
<rect class="l" x="707" y="636" width="11" height="14"/><rect class="k" x="711" y="636" width="3" height="14"/>
<rect class="h" x="721" y="642" width="16" height="4"/>
<rect class="h" x="722" y="648" width="15" height="4"/>
<rect class="l" x="745" y="640" width="10" height="10"/><rect class="k" x="749" y="640" width="2" height="10"/>
<rect class="h" x="762" y="643" width="14" height="3"/>
<rect class="s" x="738" y="652" width="30" height="2"/>
<rect class="h" x="752" y="656" width="16" height="3"/>
<rect class="h" x="755" y="661" width="13" height="3"/>
<rect class="l" x="773" y="650" width="17" height="15"/><rect class="k" x="780" y="650" width="3" height="15"/>
<rect class="h" x="797" y="656" width="18" height="3"/>
<rect class="h" x="797" y="662" width="18" height="3"/>
<rect class="h" x="823" y="656" width="17" height="3"/>
<rect class="h" x="823" y="662" width="17" height="3"/>
<rect class="l" x="846" y="655" width="9" height="17"/><rect class="k" x="849" y="655" width="3" height="17"/>
<rect class="h" x="862" y="660" width="22" height="3"/>
<rect class="h" x="862" y="665" width="22" height="3"/>
<rect class="g" x="605" y="664" width="12" height="14"/><rect class="k" x="610" y="664" width="2" height="14"/>
<rect class="h" x="588" y="674" width="10" height="5"/>
<rect class="h" x="656" y="674" width="16" height="5"/>
<rect class="g" x="587" y="658" width="14" height="3"/>
<rect class="y" x="1044" y="598" width="17" height="12"/>
<rect class="y" x="1036" y="614" width="21" height="4"/>
<rect class="l" x="937" y="643" width="13" height="8"/><rect class="k" x="942" y="643" width="2" height="8"/>
<rect class="y" x="922" y="650" width="14" height="5"/>
<rect class="l" x="984" y="624" width="10" height="17"/><rect class="k" x="987" y="624" width="3" height="17"/>
<rect class="y" x="997" y="642" width="10" height="3"/>
<rect class="l" x="940" y="671" width="10" height="8"/><rect class="k" x="944" y="671" width="2" height="8"/>
<rect class="y" x="931" y="677" width="7" height="5"/>
<rect class="l" x="984" y="660" width="10" height="16"/><rect class="k" x="987" y="660" width="3" height="16"/>
<rect class="y" x="997" y="672" width="10" height="3"/>
<rect class="l" x="940" y="695" width="10" height="8"/><rect class="k" x="944" y="695" width="2" height="8"/>
<rect class="y" x="931" y="700" width="7" height="5"/>
<rect class="l" x="984" y="684" width="10" height="16"/><rect class="k" x="987" y="684" width="3" height="16"/>
<rect class="y" x="997" y="696" width="15" height="3"/>
<rect class="y" x="1047" y="659" width="18" height="4"/>
<rect class="y" x="1069" y="655" width="14" height="5"/>
<rect class="y" x="1070" y="663" width="13" height="5"/>
<rect class="y" x="1062" y="670" width="22" height="5"/>
<rect class="y" x="1064" y="676" width="20" height="5"/>
<rect class="y" x="1064" y="682" width="20" height="4"/>
<rect class="y" x="1064" y="687" width="20" height="4"/>
<rect class="y" x="1064" y="692" width="20" height="4"/>
<rect class="g" x="1105" y="653" width="21" height="35"/><rect class="k" x="1116" y="653" width="3" height="35"/>
<rect class="l" x="1152" y="622" width="15" height="19"/><rect class="k" x="1158" y="622" width="3" height="19"/>
<rect class="l" x="1181" y="599" width="19" height="9"/><rect class="k" x="1189" y="599" width="3" height="9"/>
<rect class="s" x="1170" y="594" width="15" height="3"/>
<rect class="l" x="1226" y="618" width="30" height="18"/><rect class="k" x="1240" y="618" width="3" height="18"/>
</g>

<g id="node-water-tower">
<rect class="g" x="153" y="773" width="19" height="7"/><rect class="k" x="161" y="773" width="2" height="7"/>
<rect class="s" x="208" y="745" width="50" height="3"/><circle cx="209" cy="746.5" r="1.5" fill="#223"/>
<rect class="g" x="181" y="762" width="19" height="9"/><rect class="k" x="190" y="762" width="2" height="9"/>
<rect class="g" x="207" y="757" width="13" height="14"/><rect class="k" x="213" y="757" width="2" height="14"/>
<rect class="g" x="223" y="756" width="15" height="19"/><rect class="k" x="230" y="756" width="2" height="19"/>
<rect class="g" x="242" y="760" width="14" height="7"/><rect class="k" x="248" y="760" width="2" height="7"/>
<rect class="y" x="249" y="772" width="10" height="7"/>
<rect class="o" x="265" y="774" width="16" height="15"/><rect class="k" x="272" y="774" width="2" height="15"/>
<rect class="g" x="289" y="757" width="19" height="15"/><rect class="k" x="298" y="757" width="2" height="15"/>
<rect class="h" x="316" y="763" width="6" height="5"/>
<rect class="h" x="316" y="771" width="6" height="6"/>
<rect class="g" x="329" y="770" width="17" height="6"/><rect class="k" x="337" y="770" width="2" height="6"/>
<rect class="g" x="349" y="764" width="17" height="9"/><rect class="k" x="357" y="764" width="2" height="9"/>
<rect class="g" x="313" y="740" width="17" height="7"/><rect class="k" x="321" y="740" width="2" height="7"/>
<rect class="g" x="332" y="741" width="18" height="6"/><rect class="k" x="340" y="741" width="2" height="6"/>
<rect class="g" x="153" y="827" width="20" height="8"/><rect class="k" x="162" y="827" width="2" height="8"/>
<rect class="g" x="180" y="818" width="20" height="8"/><rect class="k" x="189" y="818" width="2" height="8"/>
<rect class="g" x="208" y="812" width="16" height="16"/><rect class="k" x="215" y="812" width="2" height="16"/>
<rect class="g" x="225" y="812" width="14" height="18"/><rect class="k" x="231" y="812" width="2" height="18"/>
<rect class="g" x="242" y="817" width="16" height="7"/><rect class="k" x="249" y="817" width="2" height="7"/>
<rect class="g" x="265" y="811" width="16" height="12"/><rect class="k" x="272" y="811" width="2" height="12"/>
<rect class="g" x="289" y="812" width="20" height="15"/><rect class="k" x="298" y="812" width="2" height="15"/>
<rect class="h" x="316" y="818" width="6" height="5"/>
<rect class="h" x="316" y="827" width="6" height="6"/>
<rect class="g" x="312" y="795" width="18" height="7"/><rect class="k" x="320" y="795" width="2" height="7"/>
<rect class="g" x="334" y="796" width="18" height="6"/><rect class="k" x="342" y="796" width="2" height="6"/>
<rect class="g" x="329" y="819" width="17" height="7"/><rect class="k" x="337" y="819" width="2" height="7"/>
<rect class="g" x="349" y="812" width="17" height="12"/><rect class="k" x="357" y="812" width="2" height="12"/>
<rect class="y" x="417" y="765" width="23" height="6"/>
<rect class="y" x="417" y="775" width="23" height="5"/>
<rect class="g" x="443" y="765" width="17" height="13"/><rect class="k" x="451" y="765" width="2" height="13"/>
<rect class="g" x="473" y="768" width="15" height="18"/><rect class="k" x="480" y="768" width="2" height="18"/>
<rect class="g" x="490" y="755" width="20" height="8"/><rect class="k" x="499" y="755" width="2" height="8"/>
<rect class="s" x="505" y="768" width="15" height="3"/>
<rect class="g" x="537" y="764" width="30" height="15"/><rect class="k" x="551" y="764" width="2" height="15"/>
<rect class="o" x="394" y="785" width="17" height="8"/><rect class="k" x="401" y="785" width="2" height="8"/>
<rect class="y" x="429" y="790" width="22" height="11"/>
<rect class="o" x="457" y="791" width="21" height="9"/><rect class="k" x="467" y="791" width="2" height="9"/>
<rect class="y" x="484" y="789" width="21" height="13"/>
<rect class="g" x="189" y="846" width="20" height="8"/><rect class="k" x="198" y="846" width="2" height="8"/>
<rect class="o" x="216" y="839" width="19" height="18"/><rect class="k" x="224" y="839" width="3" height="18"/>
<rect class="g" x="244" y="845" width="12" height="14"/><rect class="k" x="249" y="845" width="2" height="14"/>
<rect class="h" x="264" y="849" width="21" height="8"/>
<rect class="h" x="215" y="857" width="25" height="4"/>
<rect class="g" x="171" y="875" width="18" height="11"/><rect class="k" x="179" y="875" width="2" height="11"/>
<rect class="h" x="193" y="874" width="22" height="14"/>
<rect class="g" x="247" y="876" width="12" height="15"/><rect class="k" x="252" y="876" width="2" height="15"/>
<rect class="h" x="271" y="880" width="13" height="11"/>
<rect class="h" x="215" y="899" width="21" height="4"/>
<rect class="o" x="196" y="920" width="20" height="17"/><rect class="k" x="205" y="920" width="3" height="17"/>
<rect class="o" x="223" y="924" width="18" height="8"/><rect class="k" x="231" y="924" width="2" height="8"/>
<rect class="y" x="245" y="916" width="22" height="9"/>
<rect class="o" x="254" y="948" width="13" height="8"/><rect class="k" x="259" y="948" width="2" height="8"/>
<rect class="y" x="275" y="944" width="22" height="6"/>
<rect class="h" x="305" y="873" width="15" height="4"/>
<rect class="h" x="310" y="882" width="8" height="3"/>
<rect class="g" x="357" y="864" width="17" height="15"/><rect class="k" x="365" y="864" width="2" height="15"/>
<rect class="h" x="387" y="868" width="21" height="4"/>
<rect class="h" x="387" y="876" width="21" height="4"/>
<rect class="h" x="428" y="875" width="23" height="30"/>
<rect class="g" x="463" y="867" width="10" height="16"/>
<rect class="g" x="647" y="860" width="10" height="16"/>
<rect class="y" x="661" y="872" width="9" height="3"/>
<rect class="g" x="566" y="871" width="14" height="9"/>
<rect class="h" x="551" y="879" width="15" height="6"/>
<rect class="g" x="604" y="887" width="10" height="16"/>
<rect class="g" x="560" y="898" width="11" height="10"/>
<rect class="h" x="551" y="904" width="9" height="5"/>
<rect class="y" x="653" y="899" width="9" height="3"/>
<rect class="g" x="603" y="911" width="10" height="17"/>
<rect class="g" x="560" y="920" width="11" height="9"/>
<rect class="h" x="551" y="925" width="7" height="6"/>
<rect class="y" x="652" y="924" width="13" height="3"/>
<rect class="h" x="666" y="892" width="18" height="19"/>
<rect class="h" x="691" y="890" width="23" height="5"/>
<rect class="h" x="690" y="897" width="21" height="5"/>
<rect class="h" x="699" y="908" width="21" height="4"/>
<rect class="h" x="719" y="917" width="21" height="4"/>
<rect class="h" x="720" y="889" width="13" height="4"/>
<rect class="h" x="726" y="882" width="11" height="4"/>
<rect class="y" x="720" y="874" width="21" height="3"/>
<rect class="y" x="726" y="879" width="10" height="2"/>
<rect class="g" x="762" y="878" width="21" height="35"/><rect class="k" x="769" y="878" width="1" height="35"/><rect class="k" x="776" y="878" width="1" height="35"/>
<rect class="g" x="819" y="836" width="15" height="18"/><rect class="k" x="825" y="836" width="2" height="18"/>
<rect class="l" x="864" y="833" width="18" height="8"/><rect class="k" x="872" y="833" width="2" height="8"/>
<rect class="g" x="867" y="843" width="15" height="3"/>
<rect class="r" x="893" y="832" width="32" height="18"/><rect class="k" x="907" y="832" width="3" height="18"/>
<rect class="g" x="872" y="734" width="18" height="8"/><rect class="k" x="880" y="734" width="2" height="8"/>
<rect class="g" x="872" y="746" width="16" height="4"/>
<rect class="g" x="903" y="738" width="31" height="18"/><rect class="k" x="917" y="738" width="2" height="18"/>
<rect class="g" x="866" y="791" width="19" height="8"/><rect class="k" x="874" y="791" width="2" height="8"/>
<rect class="g" x="866" y="803" width="16" height="3"/>
<rect class="g" x="903" y="792" width="31" height="19"/><rect class="k" x="917" y="792" width="2" height="19"/>
</g>
</svg>
